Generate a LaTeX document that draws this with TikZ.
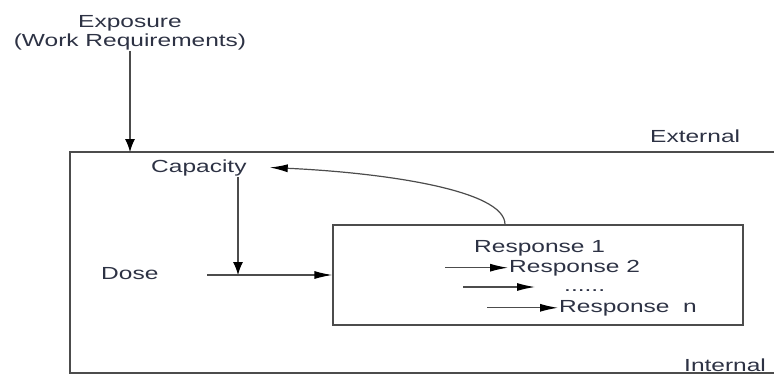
\documentclass[tikz,border=0pt]{standalone}
\usepackage{fontspec}
\setmainfont{Liberation Sans}
\usetikzlibrary{arrows.meta}
\definecolor{txtcol}{RGB}{45,50,68}
\newcommand{\widetxt}[1]{\scalebox{1.4}[1]{#1}}
\tikzset{
  line/.style={draw=black!70, line width=1.2pt},
  harr/.style={line, -{Latex[length=18pt,width=8pt,color=black]}},
  varr/.style={line, -{Latex[length=13pt,width=10pt,color=black]}},
  lbl/.style={text=txtcol, inner sep=1pt, font=\fontsize{17.5}{19}\selectfont},
}
\begin{document}
\begin{tikzpicture}[x=1pt, y=-1pt]
    \useasboundingbox (0,0) rectangle (774,378);
    \coordinate (outerNW) at (70,152);
    \coordinate (outerSW) at (70,373);
    \draw[line] (774,152) -- (outerNW) -- (outerSW) -- (774,373);
    \node[lbl, anchor=base] (expTop) at (130,27) {\widetxt{Exposure}};
    \node[lbl, anchor=base] (expBot) at (130,46) {\widetxt{(Work Requirements)}};
    \node[lbl, anchor=base west] (external) at (649,142) {\widetxt{External}};
    \node[lbl, anchor=base west] (internal) at (683,371) {\widetxt{Internal}};
    \node[lbl, anchor=base west] (capacity) at (150,172) {\widetxt{Capacity}};
    \node[lbl, anchor=base west] (dose) at (100,279) {\widetxt{Dose}};
    \node[draw=black!70, line width=1.2pt, minimum width=410pt, minimum height=100pt, inner sep=0pt] (respbox) at (538,275) {};
    \node[lbl, anchor=base west] (resp1) at (473,252) {\widetxt{Response 1}};
    \node[lbl, anchor=base west] (resp2) at (508,272) {\widetxt{Response 2}};
    \node[lbl, anchor=base west] (dots) at (563,291) {\widetxt{......}};
    \node[lbl, anchor=base west] (respn) at (558,312) {\widetxt{Response\ \ n}};
    \coordinate (join) at (238,275);
    \coordinate (doseout) at (207,275);
    \coordinate (midA) at (463,287);
    \coordinate (midB) at (535,287);
    \draw[varr] (expBot.south) -- (expBot.south |- outerNW);
    \draw[varr] (capacity.south -| join) -- (join);
    \draw[harr] (doseout) -- (respbox.west);
    \draw[harr] ([xshift=-33pt]respbox.north) .. controls +(0,-35) and +(110,5) .. ([xshift=22pt]capacity.east);
    \draw[harr] ([xshift=-63pt]resp2.west) -- (resp2.west);
    \draw[harr] (midA) -- (midB);
    \draw[harr] ([xshift=-71pt]respn.west) -- (respn.west);
\end{tikzpicture}
\end{document}
